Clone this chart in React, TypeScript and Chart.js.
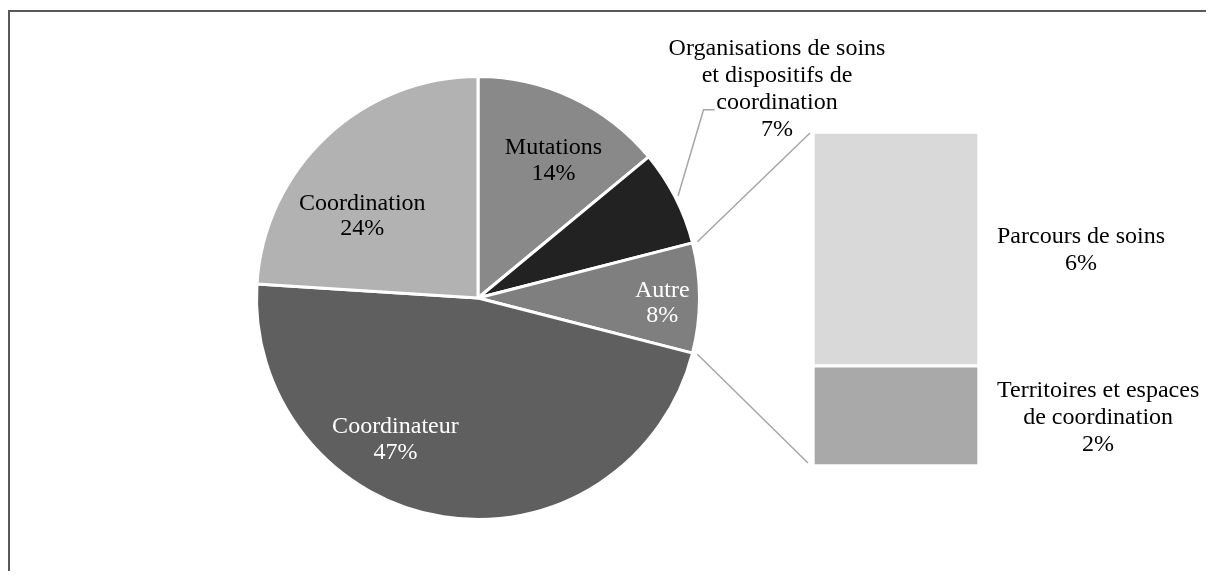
import React, { useEffect, useRef } from "react";
import { Chart, registerables } from "chart.js";

Chart.register(...registerables);

// ---- data ----
const pieCategories = [
  "Mutations",
  "Organisations de soins\net dispositifs de\ncoordination",
  "Autre",
  "Coordinateur",
  "Coordination",
];
const pieValues = [14, 7, 8, 47, 24];
const pieColors = ["#898989", "#222222", "#7f7f7f", "#5f5f5f", "#b2b2b2"];
const pieTextColors = ["#000000", "#000000", "#ffffff", "#ffffff", "#000000"];

// stacked from bottom to top
const barCategories = ["Territoires et espaces\nde coordination", "Parcours de soins"];
const barValues = [2.4, 5.6];
const barColors = ["#a9a9a9", "#d9d9d9"];

// ---- label placement (pixel offsets from pie centre for a 220px radius; first baseline) ----
const pieLabelOffsets: [number, number, number][] = [
  [75, -143, 25.5],
  [297, -241, 27],
  [183, -1, 25.5],
  [-82, 134, 26],
  [-115, -87, 25],
];
const FONT = '"Liberation Serif", "Times New Roman", serif';
const FONT_SIZE = 24;
const LINE_COLOR = "#a6a6a6";

function drawLines(
  ctx: CanvasRenderingContext2D,
  lines: string[],
  cx: number,
  b0: number,
  lh: number,
  color: string
) {
  ctx.save();
  ctx.font = `${FONT_SIZE}px ${FONT}`;
  ctx.fillStyle = color;
  ctx.textAlign = "center";
  ctx.textBaseline = "alphabetic";
  lines.forEach((l, i) => ctx.fillText(l, cx, b0 + i * lh));
  ctx.restore();
}

export default function App() {
  const pieRef = useRef<HTMLCanvasElement>(null);
  const barRef = useRef<HTMLCanvasElement>(null);

  useEffect(() => {
    if (!pieRef.current || !barRef.current) return;
    Chart.defaults.font.family = FONT;
    const pieTotal = pieValues.reduce((a, b) => a + b, 0);
    const pct = (v: number) => Math.round((v / pieTotal) * 100) + "%";
    const barTotal = barValues.reduce((a, b) => a + b, 0);

    const pieLabelPlugin = {
      id: "pieLabels",
      afterDatasetsDraw(chart: any) {
        const ctx = chart.ctx as CanvasRenderingContext2D;
        const meta = chart.getDatasetMeta(0);
        meta.data.forEach((arc: any, i: number) => {
          const { x, y, outerRadius } = arc.getProps(["x", "y", "outerRadius"], true);
          const k = outerRadius / 220;
          const [dx, dy, lh] = pieLabelOffsets[i];
          const lines = [...pieCategories[i].split("\n"), pct(pieValues[i])];
          drawLines(ctx, lines, x + dx * k, y + dy * k, lh, pieTextColors[i]);
        });
        // leader line for the small outside-labelled slice
        const arc = meta.data[1];
        const { x, y, outerRadius, startAngle, endAngle } = arc.getProps(
          ["x", "y", "outerRadius", "startAngle", "endAngle"],
          true
        );
        const k = outerRadius / 220;
        const mid = (startAngle + endAngle) / 2;
        ctx.save();
        ctx.strokeStyle = LINE_COLOR;
        ctx.lineWidth = 1.5;
        ctx.beginPath();
        ctx.moveTo(x + Math.cos(mid) * (outerRadius + 3), y + Math.sin(mid) * (outerRadius + 3));
        ctx.lineTo(x + 224 * k, y - 187 * k);
        ctx.lineTo(x + 235 * k, y - 187 * k);
        ctx.stroke();
        ctx.restore();
      },
    };

    const pieChart = new Chart(pieRef.current, {
      type: "pie",
      data: {
        labels: pieCategories,
        datasets: [
          {
            data: pieValues,
            backgroundColor: pieColors,
            borderColor: "#ffffff",
            borderWidth: 3,
          },
        ],
      },
      options: {
        responsive: false,
        animation: false,
        events: [],
        layout: { padding: { left: 247, top: 67, right: 513, bottom: 58 } },
        plugins: { legend: { display: false }, tooltip: { enabled: false } },
      },
      plugins: [pieLabelPlugin],
    } as any);

    const barPlugin = {
      id: "barExtras",
      afterDatasetsDraw(chart: any) {
        const ctx = chart.ctx as CanvasRenderingContext2D;
        const bw = 2;
        const segs = chart.data.datasets.map((_: any, i: number) =>
          chart.getDatasetMeta(i).data[0].getProps(["x", "y", "base", "width"], true)
        );
        const top = Math.min(...segs.map((s: any) => s.y)) + bw;
        const bottom = Math.max(...segs.map((s: any) => s.base)) - bw;
        const left = segs[0].x - segs[0].width / 2 + bw;
        const right = segs[0].x + segs[0].width / 2 - bw;

        // labels to the right of each segment
        ctx.save();
        ctx.font = `${FONT_SIZE}px ${FONT}`;
        segs.forEach((s: any, i: number) => {
          const lines = [...barCategories[i].split("\n"), pct(barValues[i])];
          const w = Math.max(...lines.map((l) => ctx.measureText(l).width));
          const mid = (s.y + s.base) / 2;
          const lh = 27;
          const b0 = mid - ((lines.length - 1) * lh) / 2 + 8;
          drawLines(ctx, lines, right + 20 + w / 2, b0, lh, "#000000");
        });
        ctx.restore();

        // connector lines from the "Autre" slice to the bar
        const arc = pieChart.getDatasetMeta(0).data[2] as any;
        const { x, y, outerRadius, startAngle, endAngle } = arc.getProps(
          ["x", "y", "outerRadius", "startAngle", "endAngle"],
          true
        );
        const R = outerRadius + 5;
        ctx.save();
        ctx.strokeStyle = LINE_COLOR;
        ctx.lineWidth = 1.5;
        ctx.beginPath();
        ctx.moveTo(x + Math.cos(startAngle) * R, y + Math.sin(startAngle) * R);
        ctx.lineTo(left - 5, top - 1);
        ctx.moveTo(x + Math.cos(endAngle) * R, y + Math.sin(endAngle) * R);
        ctx.lineTo(left - 7, bottom - 1);
        ctx.stroke();
        ctx.restore();
      },
    };

    const barChart = new Chart(barRef.current, {
      type: "bar",
      data: {
        labels: [""],
        datasets: barValues.map((v, i) => ({
          label: barCategories[i],
          data: [v],
          backgroundColor: barColors[i],
          borderColor: "#ffffff",
          borderWidth: 2,
          borderSkipped: false,
          categoryPercentage: 1,
          barPercentage: 1,
        })),
      },
      options: {
        responsive: false,
        animation: false,
        events: [],
        layout: { padding: { left: 805, right: 235, top: 124, bottom: 113 } },
        scales: {
          x: { display: false, stacked: true },
          y: { display: false, stacked: true, min: 0, max: barTotal },
        },
        plugins: { legend: { display: false }, tooltip: { enabled: false } },
      },
      plugins: [barPlugin],
    } as any);

    return () => {
      barChart.destroy();
      pieChart.destroy();
    };
  }, []);

  const W = 1206;
  const H = 571;
  return (
    <div style={{ position: "relative", width: W, height: H, marginBottom: -8, background: "#fff" }}>
      <div
        style={{
          position: "absolute",
          left: 0,
          top: 2,
          right: 0,
          bottom: 0,
          borderLeft: "2px solid #595959",
          borderTop: "2px solid #595959",
        }}
      />
      <canvas
        ref={pieRef}
        width={W}
        height={H}
        style={{ position: "absolute", left: 0, top: 0, width: W, height: H, display: "block" }}
      />
      <canvas
        ref={barRef}
        width={W}
        height={H}
        style={{ position: "absolute", left: 0, top: 0, width: W, height: H, display: "block" }}
      />
    </div>
  );
}
